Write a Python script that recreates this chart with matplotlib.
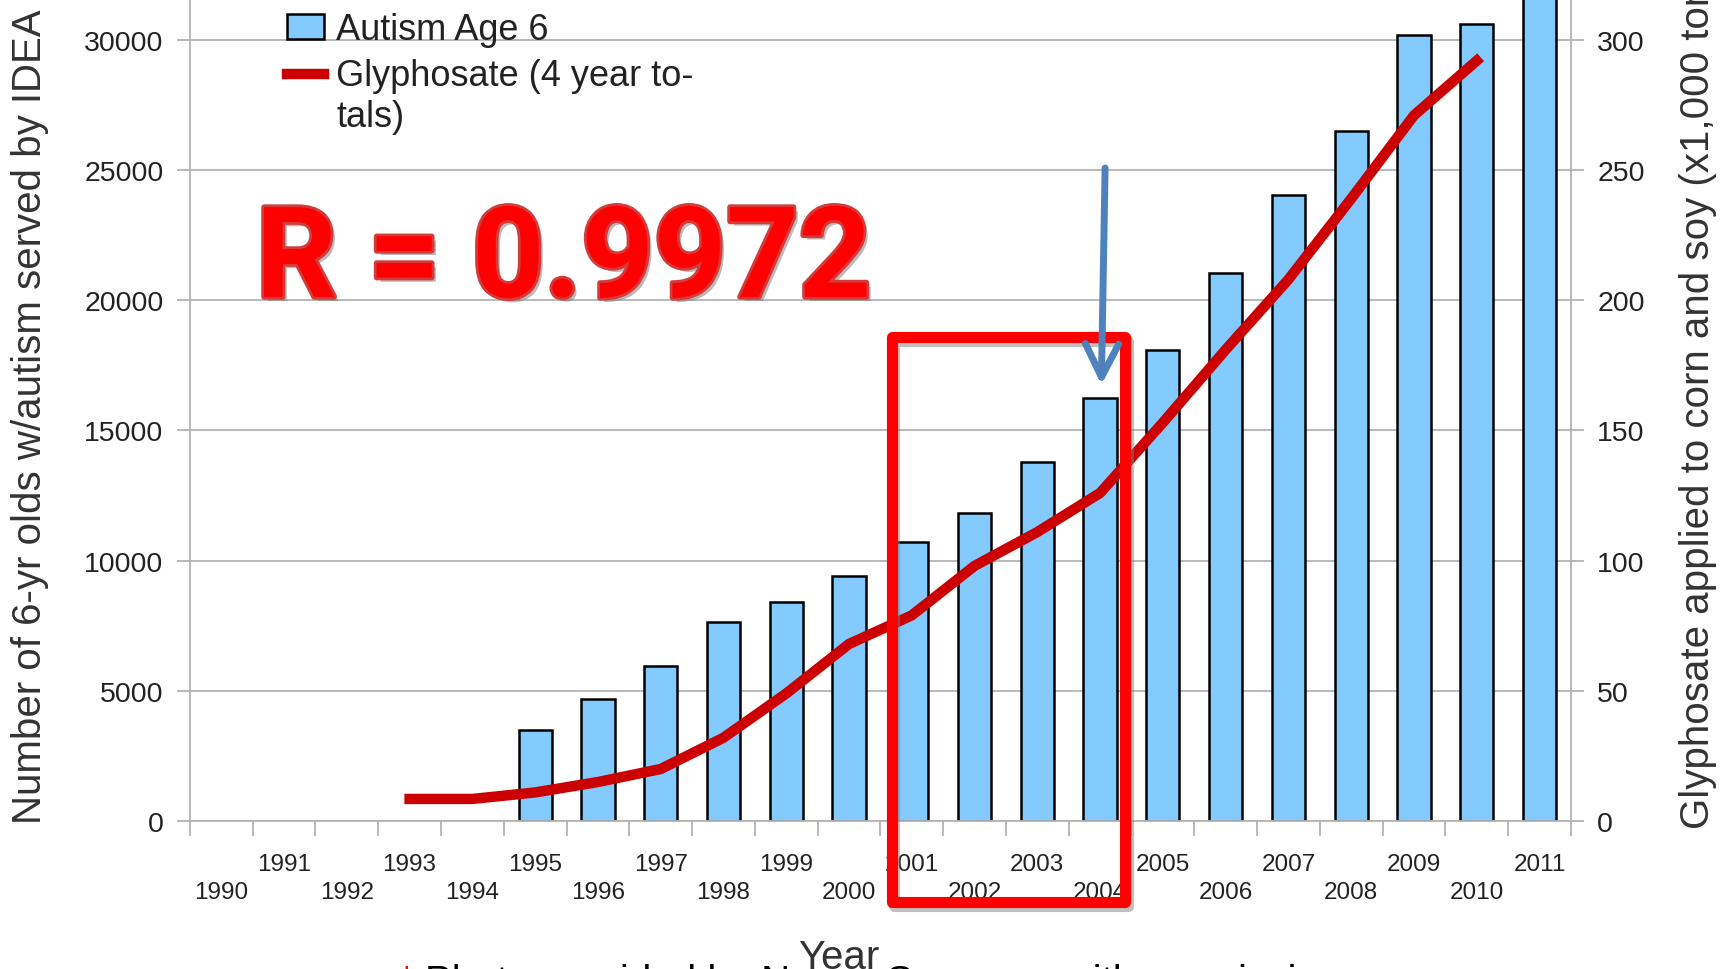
import numpy as np
import matplotlib
matplotlib.use('Agg')
import matplotlib.pyplot as plt
import matplotlib.patheffects as pe
from matplotlib.patches import Rectangle
from matplotlib.legend_handler import HandlerLine2D

plt.rcParams['font.family'] = ['Liberation Sans', 'DejaVu Sans']

# data
years = list(range(1990, 2012))
autism_years = list(range(1995, 2012))
autism_age6 = [3500, 4700, 5950, 7650, 8400, 9400, 10700, 11850, 13800,
               16250, 18100, 21050, 24050, 26500, 30200, 30600, 33500]
glyph_years = list(range(1993, 2011))
glyphosate = [8.5, 8.5, 11, 15, 20, 32, 49, 68, 79, 98, 111, 126,
              153, 181, 208, 239, 271, 292]
left_ticks = [0, 5000, 10000, 15000, 20000, 25000, 30000]
right_ticks = [0, 50, 100, 150, 200, 250, 300]

GRID = '#b3b3b3'
TXT = '#222222'


# legend line handle sits next to the first line of a two-line label
class HandlerTopLine(HandlerLine2D):
    def create_artists(self, legend, orig_handle, xdescent, ydescent,
                       width, height, fontsize, trans):
        arts = super().create_artists(legend, orig_handle, xdescent, ydescent,
                                      width, height, fontsize, trans)
        for a in arts:
            if hasattr(a, 'set_ydata'):
                a.set_ydata(np.asarray(a.get_ydata()) + 0.62 * fontsize)
        return arts


fig = plt.figure(figsize=(17.31, 9.70), dpi=100)
ax = fig.add_axes([0.1097, 0.1525, 0.7978, 0.8475])
ax2 = ax.twinx()

idx = {y: i for i, y in enumerate(years)}
bx = [idx[y] for y in autism_years]
gx = [idx[y] for y in glyph_years]

bars = ax.bar(bx, autism_age6, width=0.53, color='#83caff', edgecolor='black',
              linewidth=1.8, label='Autism Age 6', zorder=2)
line, = ax2.plot(gx, glyphosate, color='#cc0000', lw=7.5, zorder=3,
                 label='Glyphosate (4 year to-\ntals)')

ymax = 31570
ax.set_ylim(0, ymax)
ax2.set_ylim(0, ymax / 100)
ax.set_xlim(-0.5, len(years) - 0.5)

# grid + spines
ax.set_axisbelow(True)
ax.yaxis.grid(True, color=GRID, lw=1.3)
for a in (ax, ax2):
    a.spines['top'].set_visible(False)
    for s in ('left', 'right', 'bottom'):
        a.spines[s].set_color(GRID)
        a.spines[s].set_linewidth(1.3)
ax.spines['right'].set_visible(False)
ax2.spines['left'].set_visible(False)
ax2.spines['bottom'].set_visible(False)

# y ticks
ax.set_yticks(left_ticks)
ax.tick_params(axis='y', length=9.5, width=1.3, color=GRID, pad=9.5,
               labelsize=20.5, labelcolor=TXT)
ax2.set_yticks(right_ticks)
ax2.tick_params(axis='y', length=9.5, width=1.3, color=GRID, pad=9.5,
                labelsize=20.5, labelcolor=TXT)

# x ticks: staggered year labels, tick marks between categories
xlabels = [str(y) if y % 2 else '\n' + str(y) for y in years]
ax.set_xticks(range(len(years)), xlabels, fontsize=17.5, color=TXT,
              linespacing=1.35)
ax.tick_params(axis='x', which='major', length=0, pad=23)
ax.set_xticks(np.arange(-0.5, len(years), 1), minor=True)
ax.tick_params(axis='x', which='minor', length=11, width=1.3, color=GRID)

# axis labels
ax.set_ylabel('Number of 6-yr olds w/autism served by IDEA',
              fontsize=29, color='#333333', rotation=90, rotation_mode='default',
              ha='center', va='bottom')
ax.yaxis.set_label_coords(-0.116, -0.002)
ax2.set_ylabel('Glyphosate applied to corn and soy (x1,000 tons)',
               fontsize=29, color='#333333', rotation=90, rotation_mode='default',
               ha='center', va='bottom')
ax2.yaxis.set_label_coords(1.092, -0.008)
fig.text(760 / 1568, 1 - 878 / 879, 'Year', fontsize=29,
         color='#333333', ha='center', va='baseline')

# legend
ax.legend(handles=[bars, line], loc='upper left', bbox_to_anchor=(0.068, 0.988),
          frameon=False, fontsize=26, handlelength=1.0, handletextpad=0.35,
          labelspacing=0.3, borderaxespad=0, borderpad=0.1,
          labelcolor=TXT, handler_map={line: HandlerTopLine()})

# annotations: highlight box and arrow
box = Rectangle((10.68, -30.9), 14.4 - 10.68, 186 + 30.9, fill=False,
                edgecolor='#ff0000', lw=8, joinstyle='round', clip_on=False,
                zorder=6)
box.set_path_effects([pe.SimpleLineShadow(offset=(2, -3), shadow_color='gray',
                                          alpha=0.5), pe.Normal()])
ax2.add_patch(box)
ax2.annotate('', xy=(14.02, 167.5), xytext=(14.08, 250.8),
             arrowprops=dict(arrowstyle='->, head_length=1.2, head_width=0.6',
                             color='#4f81bd', lw=5, mutation_scale=20,
                             shrinkA=0, shrinkB=0),
             zorder=7, annotation_clip=False)

# big R value
fig.text(256 / 1731, 1 - 270 / 879, 'R = 0.9972', fontfamily=['Roboto', 'Liberation Sans'],
         fontweight='bold', fontsize=91, color='#ff0000', ha='left', va='baseline',
         zorder=10,
         path_effects=[pe.SimplePatchShadow(offset=(3, -3), shadow_rgbFace='#777777',
                                            alpha=0.5),
                       pe.Stroke(linewidth=4, foreground='#d43c3c'), pe.Normal()])

# caption cut off at the bottom
fig.text(361 / 1568, -0.0245, '*', color='red', fontsize=29, ha='left', va='baseline')
fig.text(385 / 1568, -0.0245, 'Photo provided by Nancy Swanson with permission',
         color='black', fontsize=29, ha='left', va='baseline')

fig.savefig('out.png', dpi=100)
